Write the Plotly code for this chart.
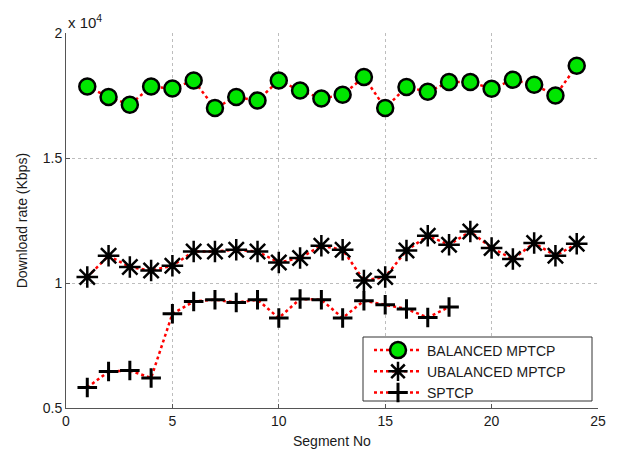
import plotly.graph_objects as go

segments_bal = list(range(1, 25))
balanced = [17860, 17440, 17130, 17860, 17780, 18100, 17000, 17440, 17300, 18100,
            17700, 17380, 17530, 18240, 17000, 17840, 17650, 18040, 18040, 17770,
            18130, 17930, 17500, 18690]
segments_unb = list(range(1, 25))
unbalanced = [10240, 11090, 10640, 10500, 10690, 11260, 11260, 11330, 11260, 10820,
              11000, 11490, 11330, 10100, 10240, 11300, 11890, 11530, 12060, 11400,
              10960, 11600, 11090, 11570]
segments_sp = list(range(1, 19))
sptcp = [5820, 6460, 6500, 6200, 8770, 9260, 9330, 9220, 9330, 8600,
         9360, 9330, 8600, 9290, 9130, 8960, 8620, 9040]

names = ["BALANCED MPTCP", "UBALANCED MPTCP", "SPTCP"]
x_ticks = [0, 5, 10, 15, 20, 25]
y_ticks = [5000, 10000, 15000, 20000]
y_ticktext = ["0.5", "1", "1.5", "2"]

FONT = "Liberation Sans, Arial, sans-serif"
TXT = "#1a1a1a"
AX = "#555555"
GRID = "#bdbdbd"

fig = go.Figure()
line = dict(color="#ff0000", width=2.5, dash="dot")
fig.add_trace(go.Scatter(
    x=segments_bal, y=balanced, name=names[0], mode="lines+markers", line=line,
    marker=dict(symbol="circle", size=16, color="#00e600",
                line=dict(color="#000000", width=2.5))))
fig.add_trace(go.Scatter(
    x=segments_unb, y=unbalanced, name=names[1], mode="lines+markers", line=line,
    marker=dict(symbol="asterisk-open", size=18, color="#000000",
                line=dict(color="#000000", width=2.5))))
fig.add_trace(go.Scatter(
    x=segments_sp, y=sptcp, name=names[2], mode="lines+markers", line=line,
    marker=dict(symbol="cross-thin-open", size=14, color="#000000",
                line=dict(color="#000000", width=3))))

fig.update_xaxes(range=[0, 25], tickvals=x_ticks, showline=True, linecolor=AX,
                 linewidth=1, ticks="inside", ticklen=4, tickcolor=AX,
                 showgrid=True, gridcolor=GRID, griddash="dot", gridwidth=1,
                 zeroline=False, tickfont=dict(family=FONT, size=14, color=TXT))
fig.update_yaxes(range=[5000, 20000], tickvals=y_ticks, ticktext=y_ticktext,
                 showline=True, linecolor=AX, linewidth=1, ticks="inside",
                 ticklen=4, tickcolor=AX, showgrid=True, gridcolor=GRID,
                 griddash="dot", gridwidth=1, zeroline=False,
                 tickfont=dict(family=FONT, size=14, color=TXT))

# legend frame (drawn as a shape so its size matches the reference)
fig.add_shape(type="rect", xref="paper", yref="paper",
              x0=(363 - 66) / 532, x1=(592 - 66) / 532,
              y0=(408 - 401) / 375, y1=(408 - 337) / 375,
              line=dict(color="#333333", width=1), fillcolor="white",
              layer="above")

fig.update_layout(
    width=610, height=442,
    margin=dict(l=58, r=20, t=25, b=42),
    paper_bgcolor="white", plot_bgcolor="white",
    font=dict(family=FONT, color=TXT),
    legend=dict(x=(369 - 66) / 532, y=(408 - 334.5) / 375,
                xanchor="left", yanchor="top",
                bgcolor="rgba(0,0,0,0)", borderwidth=0,
                itemwidth=48,
                font=dict(family=FONT, size=14, color=TXT), tracegroupgap=0),
    annotations=[
        dict(text="x 10<sup>4</sup>", xref="paper", yref="paper", x=0, y=1.0,
             xanchor="left", yanchor="bottom", showarrow=False,
             font=dict(family=FONT, size=15, color=TXT)),
        dict(text="Download rate (Kbps)", xref="paper", yref="paper",
             x=-0.083, y=0.5, xanchor="center", yanchor="middle", textangle=-90,
             showarrow=False, font=dict(family=FONT, size=14, color=TXT)),
        dict(text="Segment No", xref="paper", yref="paper", x=0.5, y=-0.088,
             xanchor="center", yanchor="middle", showarrow=False,
             font=dict(family=FONT, size=14, color=TXT)),
    ],
)

fig.write_html("out.html")
